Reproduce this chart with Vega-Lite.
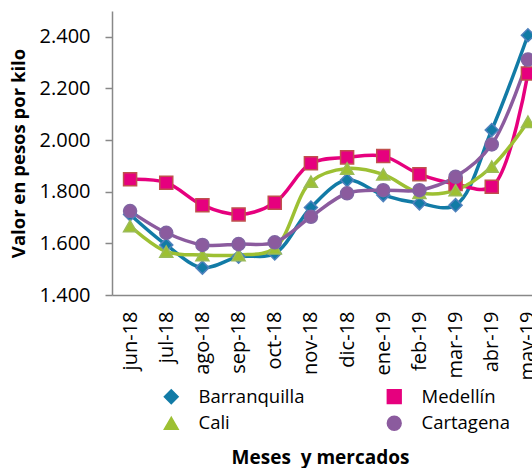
{
  "$schema": "https://vega.github.io/schema/vega-lite/v6.json",
  "width": 434,
  "height": 284,
  "autosize": {"type": "none"},
  "padding": {"left": 112, "top": 11, "right": -14, "bottom": 173},
  "background": "white",
  "config": {"view": {"stroke": null}, "font": "Open Sans"},
  "data": {"values": [
    {"mes": "jun-18", "mercado": "Barranquilla", "valor": 1712},
    {"mes": "jul-18", "mercado": "Barranquilla", "valor": 1594},
    {"mes": "ago-18", "mercado": "Barranquilla", "valor": 1506},
    {"mes": "sep-18", "mercado": "Barranquilla", "valor": 1548},
    {"mes": "oct-18", "mercado": "Barranquilla", "valor": 1561},
    {"mes": "nov-18", "mercado": "Barranquilla", "valor": 1739},
    {"mes": "dic-18", "mercado": "Barranquilla", "valor": 1845},
    {"mes": "ene-19", "mercado": "Barranquilla", "valor": 1787},
    {"mes": "feb-19", "mercado": "Barranquilla", "valor": 1755},
    {"mes": "mar-19", "mercado": "Barranquilla", "valor": 1748},
    {"mes": "abr-19", "mercado": "Barranquilla", "valor": 2039},
    {"mes": "may-19", "mercado": "Barranquilla", "valor": 2406},
    {"mes": "jun-18", "mercado": "Medellín", "valor": 1848},
    {"mes": "jul-18", "mercado": "Medellín", "valor": 1835},
    {"mes": "ago-18", "mercado": "Medellín", "valor": 1748},
    {"mes": "sep-18", "mercado": "Medellín", "valor": 1712},
    {"mes": "oct-18", "mercado": "Medellín", "valor": 1757},
    {"mes": "nov-18", "mercado": "Medellín", "valor": 1910},
    {"mes": "dic-18", "mercado": "Medellín", "valor": 1933},
    {"mes": "ene-19", "mercado": "Medellín", "valor": 1938},
    {"mes": "feb-19", "mercado": "Medellín", "valor": 1868},
    {"mes": "mar-19", "mercado": "Medellín", "valor": 1830},
    {"mes": "abr-19", "mercado": "Medellín", "valor": 1819},
    {"mes": "may-19", "mercado": "Medellín", "valor": 2258},
    {"mes": "jun-18", "mercado": "Cali", "valor": 1667},
    {"mes": "jul-18", "mercado": "Cali", "valor": 1568},
    {"mes": "ago-18", "mercado": "Cali", "valor": 1555},
    {"mes": "sep-18", "mercado": "Cali", "valor": 1555},
    {"mes": "oct-18", "mercado": "Cali", "valor": 1581},
    {"mes": "nov-18", "mercado": "Cali", "valor": 1839},
    {"mes": "dic-18", "mercado": "Cali", "valor": 1890},
    {"mes": "ene-19", "mercado": "Cali", "valor": 1867},
    {"mes": "feb-19", "mercado": "Cali", "valor": 1796},
    {"mes": "mar-19", "mercado": "Cali", "valor": 1806},
    {"mes": "abr-19", "mercado": "Cali", "valor": 1897},
    {"mes": "may-19", "mercado": "Cali", "valor": 2071},
    {"mes": "jun-18", "mercado": "Cartagena", "valor": 1725},
    {"mes": "jul-18", "mercado": "Cartagena", "valor": 1641},
    {"mes": "ago-18", "mercado": "Cartagena", "valor": 1594},
    {"mes": "sep-18", "mercado": "Cartagena", "valor": 1597},
    {"mes": "oct-18", "mercado": "Cartagena", "valor": 1604},
    {"mes": "nov-18", "mercado": "Cartagena", "valor": 1703},
    {"mes": "dic-18", "mercado": "Cartagena", "valor": 1794},
    {"mes": "ene-19", "mercado": "Cartagena", "valor": 1806},
    {"mes": "feb-19", "mercado": "Cartagena", "valor": 1806},
    {"mes": "mar-19", "mercado": "Cartagena", "valor": 1858},
    {"mes": "abr-19", "mercado": "Cartagena", "valor": 1983},
    {"mes": "may-19", "mercado": "Cartagena", "valor": 2312}
  ]},
  "encoding": {
    "x": {
      "field": "mes", "type": "ordinal",
      "sort": ["jun-18","jul-18","ago-18","sep-18","oct-18","nov-18","dic-18","ene-19","feb-19","mar-19","abr-19","may-19"],
      "scale": {"type": "point", "padding": 0.5},
      "axis": {
        "title": "Meses\u00a0 y mercados",
        "titleFont": "Open Sans", "titleFontSize": 19, "titleFontWeight": "bold", "titleColor": "#000",
        "titleX": 208, "titleY": 162, "titleBaseline": "middle", "titleAnchor": "middle", "titleAlign": "center",
        "labelAngle": -90, "labelFontSize": 20, "labelColor": "#000", "labelPadding": 16,
        "ticks": false, "tickSize": 0, "grid": false,
        "domainColor": "#888888", "domainWidth": 1.5
      }
    },
    "y": {
      "field": "valor", "type": "quantitative",
      "scale": {"domain": [1400, 2500], "nice": false, "zero": false},
      "axis": {
        "title": "Valor en pesos por kilo",
        "titleFont": "Open Sans", "titleFontSize": 18.5, "titleFontWeight": "bold", "titleColor": "#000",
        "titlePadding": 11,
        "values": [1400, 1600, 1800, 2000, 2200, 2400],
        "labelExpr": "replace(format(datum.value, ','), ',', '.')",
        "labelFontSize": 20, "labelColor": "#000", "labelPadding": 15,
        "tickSize": 7, "tickColor": "#888888", "tickWidth": 1.5,
        "grid": false, "domainColor": "#888888", "domainWidth": 1.5
      }
    },
    "color": {
      "field": "mercado", "type": "nominal",
      "scale": {"domain": ["Barranquilla", "Medellín", "Cali", "Cartagena"], "range": ["#127BA6", "#E6007E", "#9DC033", "#8B5B9E"]},
      "legend": {
        "title": null, "orient": "none", "legendX": 50, "legendY": 376,
        "direction": "horizontal",
        "columns": 2, "columnPadding": 79, "rowPadding": 6,
        "symbolSize": 190, "symbolStrokeWidth": 1.5, "labelFontSize": 18.5, "labelColor": "#000", "labelOffset": 18
      }
    }
  },
  "layer": [
    {
      "mark": {"type": "line", "interpolate": "catmull-rom", "strokeWidth": 3.5}
    },
    {
      "mark": {"type": "point", "filled": true, "opacity": 1, "size": 170, "strokeWidth": 1.5},
      "encoding": {
        "shape": {
          "field": "mercado", "type": "nominal",
          "scale": {"domain": ["Barranquilla", "Medellín", "Cali", "Cartagena"], "range": ["diamond", "square", "triangle-up", "circle"]},
          "legend": null
        },
        "stroke": {
          "field": "mercado", "type": "nominal",
          "scale": {"domain": ["Barranquilla", "Medellín", "Cali", "Cartagena"], "range": ["#4F81BD", "#C0504D", "#9BBB59", "#8064A2"]},
          "legend": null
        }
      }
    }
  ]
}
